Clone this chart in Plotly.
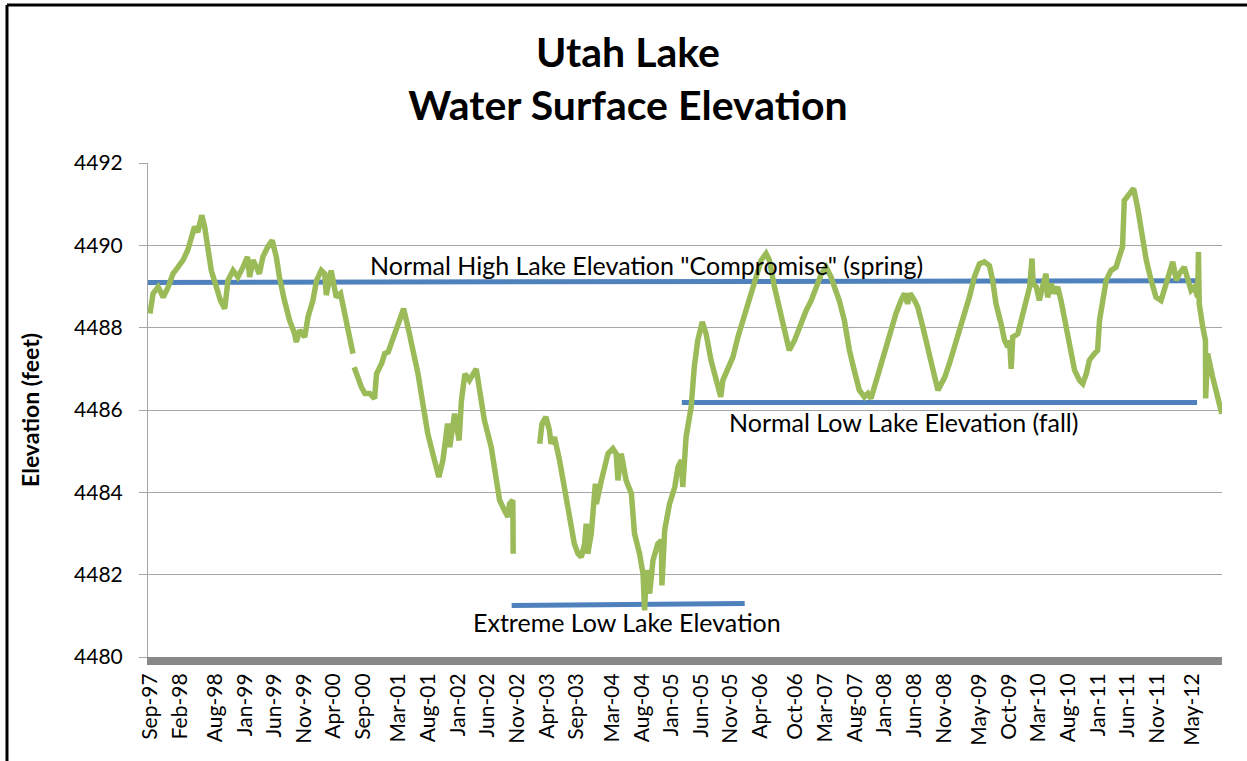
import plotly.graph_objects as go

# Utah Lake water surface elevation
survey_dates = [
    "1997-09-01", "1997-09-17", "1997-10-13", "1997-11-08", "1997-12-04", "1997-12-28",
    "1998-01-23", "1998-02-18", "1998-03-14", "1998-04-02", "1998-04-18", "1998-05-05",
    "1998-05-25", "1998-06-09", "1998-06-26", "1998-07-13", "1998-08-08", "1998-08-29",
    "1998-09-20", "1998-10-07", "1998-11-02", "1998-11-27", "1998-12-23", "1999-01-15",
    "1999-01-26", "1999-02-13", "1999-03-17", "1999-04-04", "1999-04-29", "1999-05-22",
    "1999-06-12", "1999-06-28", "1999-07-24", "1999-08-19", "1999-09-14", "1999-09-23",
    "1999-10-10", "1999-11-05", "1999-11-22", "1999-12-17", "2000-01-05", "2000-01-29",
    "2000-02-16", "2000-02-24", "2000-03-20", "2000-04-15", "2000-05-07", "2000-05-27",
    "2000-06-18", "2000-07-10", "2000-07-13",
    "2000-07-16", "2000-08-05", "2000-08-22", "2000-09-09", "2000-10-04", "2000-10-29",
    "2000-11-08", "2000-12-04", "2000-12-20", "2001-01-07", "2001-02-02", "2001-02-26",
    "2001-03-15", "2001-03-27", "2001-04-18", "2001-05-13", "2001-06-09", "2001-07-04",
    "2001-07-29", "2001-08-24", "2001-09-24", "2001-10-15", "2001-11-08", "2001-11-19",
    "2001-12-14", "2002-01-06", "2002-01-18", "2002-02-05", "2002-02-28", "2002-04-04",
    "2002-04-21", "2002-05-16", "2002-06-20", "2002-07-15", "2002-08-02", "2002-08-27",
    "2002-09-14", "2002-09-22", "2002-10-09", "2002-10-11", "2002-12-15",
    "2003-02-24", "2003-03-08", "2003-03-28", "2003-04-15", "2003-04-23", "2003-05-11",
    "2003-06-06", "2003-07-01", "2003-07-26", "2003-08-21", "2003-09-09", "2003-09-26",
    "2003-10-13", "2003-10-21", "2003-10-29", "2003-11-16", "2003-12-07", "2003-12-12",
    "2004-01-07", "2004-02-10", "2004-03-06", "2004-03-23", "2004-04-01", "2004-04-18",
    "2004-05-13", "2004-06-09", "2004-06-25", "2004-07-21", "2004-08-08", "2004-08-16",
    "2004-08-25", "2004-09-11", "2004-09-28", "2004-10-23", "2004-11-10", "2004-11-13",
    "2004-11-27", "2004-12-22", "2005-01-18", "2005-02-04", "2005-02-21", "2005-02-28",
    "2005-03-17", "2005-04-12", "2005-04-28", "2005-05-16", "2005-06-08", "2005-06-28",
    "2005-07-23", "2005-08-19", "2005-09-11", "2005-09-22", "2005-10-17", "2005-11-13",
    "2005-12-08", "2006-01-12", "2006-02-15", "2006-03-11", "2006-04-07", "2006-05-02",
    "2006-05-19", "2006-06-14", "2006-07-10", "2006-08-05", "2006-08-29", "2006-09-25",
    "2006-10-20", "2006-11-24", "2006-12-20", "2007-01-15", "2007-02-10", "2007-03-06",
    "2007-04-01", "2007-04-18", "2007-05-13", "2007-06-08", "2007-07-04", "2007-07-29",
    "2007-08-24", "2007-09-19", "2007-10-07", "2007-10-23", "2007-11-19", "2007-12-14",
    "2008-01-10", "2008-02-05", "2008-02-28", "2008-03-25", "2008-04-12", "2008-04-28",
    "2008-05-11", "2008-06-03", "2008-06-19", "2008-07-15", "2008-08-10", "2008-09-06",
    "2008-10-01", "2008-10-18", "2008-11-05", "2008-11-29", "2008-12-25", "2009-01-20",
    "2009-02-15", "2009-03-11", "2009-04-06", "2009-05-02", "2009-05-27", "2009-06-22",
    "2009-07-09", "2009-07-26", "2009-08-21", "2009-09-08", "2009-09-25", "2009-10-04",
    "2009-10-12", "2009-10-20", "2009-11-15", "2009-12-03", "2009-12-28", "2010-01-15",
    "2010-01-27", "2010-02-02", "2010-02-18", "2010-03-06", "2010-03-22", "2010-04-09",
    "2010-04-17", "2010-05-05", "2010-05-21", "2010-06-08", "2010-06-25", "2010-07-12",
    "2010-08-07", "2010-09-03", "2010-09-28", "2010-10-15", "2010-11-02", "2010-11-18",
    "2010-12-14", "2010-12-30", "2011-01-09", "2011-01-25", "2011-02-12", "2011-03-09",
    "2011-04-04", "2011-04-20", "2011-05-07", "2011-05-16", "2011-06-11", "2011-07-03",
    "2011-07-23", "2011-08-18", "2011-09-06", "2011-10-01", "2011-10-26", "2011-11-21",
    "2011-12-08", "2012-01-04", "2012-01-20", "2012-02-07", "2012-02-23", "2012-03-19",
    "2012-04-06", "2012-04-23", "2012-05-10", "2012-05-27", "2012-05-31", "2012-06-04",
    "2012-06-22", "2012-07-06", "2012-07-07", "2012-07-17", "2012-08-12", "2012-09-08",
    "2012-09-28",
]

elevation_ft = [
    4488.34, 4488.83, 4488.99, 4488.74, 4488.99, 4489.31,
    4489.47, 4489.64, 4489.88, 4490.20, 4490.45, 4490.32,
    4490.73, 4490.45, 4489.96, 4489.39, 4488.99, 4488.66,
    4488.46, 4489.15, 4489.39, 4489.23, 4489.47, 4489.72,
    4489.23, 4489.64, 4489.31, 4489.72, 4489.96, 4490.12,
    4489.72, 4489.23, 4488.66, 4488.18, 4487.85, 4487.65,
    4487.94, 4487.77, 4488.26, 4488.66, 4489.15, 4489.39,
    4489.31, 4488.79, 4489.39, 4488.74, 4488.83, 4488.34,
    4487.85, 4487.37, None,
    4487.04, 4486.72, 4486.56, 4486.40, 4486.40, 4486.28,
    4486.88, 4487.13, 4487.37, 4487.41, 4487.77, 4488.10,
    4488.34, 4488.46, 4488.02, 4487.53, 4486.88, 4486.15,
    4485.43, 4484.94, 4484.37, 4484.78, 4485.67, 4485.10,
    4485.91, 4485.26, 4486.23, 4486.88, 4486.72, 4487.00,
    4486.56, 4485.75, 4485.10, 4484.37, 4483.81, 4483.56,
    4483.40, 4483.72, 4483.81, 4482.51, None,
    4485.18, 4485.67, 4485.83, 4485.51, 4485.18, 4485.34,
    4484.78, 4484.13, 4483.48, 4482.75, 4482.51, 4482.43,
    4482.75, 4483.24, 4482.51, 4483.00, 4484.21, 4483.72,
    4484.29, 4484.94, 4485.06, 4484.94, 4484.29, 4484.94,
    4484.29, 4483.97, 4483.00, 4482.51, 4482.02, 4481.13,
    4482.11, 4481.54, 4482.35, 4482.75, 4482.83, 4481.74,
    4483.08, 4483.72, 4484.13, 4484.62, 4484.78, 4484.13,
    4485.34, 4486.07, 4487.04, 4487.69, 4488.14, 4487.85,
    4487.21, 4486.72, 4486.32, 4486.72, 4487.04, 4487.29,
    4487.77, 4488.34, 4488.83, 4489.31, 4489.64, 4489.80,
    4489.64, 4488.99, 4488.42, 4487.85, 4487.45, 4487.69,
    4488.02, 4488.42, 4488.66, 4488.99, 4489.31, 4489.47,
    4489.23, 4488.99, 4488.66, 4488.18, 4487.45, 4486.96,
    4486.48, 4486.32, 4486.40, 4486.28, 4486.72, 4487.04,
    4487.53, 4487.94, 4488.34, 4488.66, 4488.83, 4488.58,
    4488.83, 4488.66, 4488.50, 4488.02, 4487.45, 4486.96,
    4486.48, 4486.64, 4486.80, 4487.13, 4487.53, 4488.02,
    4488.34, 4488.74, 4489.23, 4489.55, 4489.60, 4489.51,
    4489.15, 4488.58, 4488.10, 4487.69, 4487.53, 4487.69,
    4487.00, 4487.77, 4487.85, 4488.18, 4488.66, 4488.99,
    4489.68, 4489.07, 4488.99, 4488.66, 4488.99, 4489.31,
    4488.74, 4489.07, 4488.83, 4488.99, 4488.66, 4488.26,
    4487.69, 4486.96, 4486.72, 4486.64, 4486.88, 4487.21,
    4487.37, 4487.45, 4488.18, 4488.66, 4489.15, 4489.39,
    4489.47, 4489.72, 4489.96, 4491.09, 4491.26, 4491.38,
    4490.93, 4490.12, 4489.64, 4489.15, 4488.74, 4488.66,
    4488.91, 4489.39, 4489.60, 4489.15, 4489.31, 4489.47,
    4489.15, 4488.91, 4488.99, 4488.74, 4489.84, 4488.58,
    4488.02, 4487.69, 4486.28, 4487.37, 4486.80, 4486.23,
    4485.91,
]

# reference levels drawn as straight blue lines
high_dates = ["1997-08-22", "2012-05-24"]
high_levels = [4489.10, 4489.14]
low_dates = ["2005-02-23", "2012-05-24"]
low_levels = [4486.18, 4486.18]
extreme_dates = ["2002-10-03", "2006-01-12"]
extreme_levels = [4481.25, 4481.30]

tick_dates = [
    "1997-09-01", "1998-02-01", "1998-08-01", "1999-01-01", "1999-06-01", "1999-11-01",
    "2000-04-01", "2000-09-01", "2001-03-01", "2001-08-01", "2002-01-01", "2002-06-01",
    "2002-11-01", "2003-04-01", "2003-09-01", "2004-03-01", "2004-08-01", "2005-01-01",
    "2005-06-01", "2005-11-01", "2006-04-01", "2006-10-01", "2007-03-01", "2007-08-01",
    "2008-01-01", "2008-06-01", "2008-11-01", "2009-05-01", "2009-10-01", "2010-03-01",
    "2010-08-01", "2011-01-01", "2011-06-01", "2011-11-01", "2012-05-01",
]
tick_labels = [
    "Sep-97", "Feb-98", "Aug-98", "Jan-99", "Jun-99", "Nov-99",
    "Apr-00", "Sep-00", "Mar-01", "Aug-01", "Jan-02", "Jun-02",
    "Nov-02", "Apr-03", "Sep-03", "Mar-04", "Aug-04", "Jan-05",
    "Jun-05", "Nov-05", "Apr-06", "Oct-06", "Mar-07", "Aug-07",
    "Jan-08", "Jun-08", "Nov-08", "May-09", "Oct-09", "Mar-10",
    "Aug-10", "Jan-11", "Jun-11", "Nov-11", "May-12",
]

FONT = "Lato"
GREEN = "#9bbb59"
BLUE = "#4f81bd"
GRID = "#a6a6a6"

W, H = 1247, 761

fig = go.Figure()

for xs, ys in [(high_dates, high_levels), (low_dates, low_levels), (extreme_dates, extreme_levels)]:
    fig.add_trace(go.Scatter(
        x=xs, y=ys, mode="lines",
        line=dict(color=BLUE, width=5),
        showlegend=False, hoverinfo="skip",
    ))

fig.add_trace(go.Scatter(
    x=survey_dates, y=elevation_ft, mode="lines",
    line=dict(color=GREEN, width=5.5),
    connectgaps=False, showlegend=False,
    name="Elevation",
))

annotations = [
    ("2004-08-26", 4489.52, 'Normal High Lake Elevation "Compromise" (spring)'),
    ("2008-04-07", 4485.71, "Normal Low Lake Elevation (fall)"),
    ("2004-05-15", 4480.85, "Extreme Low Lake Elevation"),
]
for ax, ay, txt in annotations:
    fig.add_annotation(x=ax, y=ay, text=txt, showarrow=False,
                       font=dict(family=FONT, size=25, color="black"))

# frame lines at the top and left edge of the chart
frame = dict(color="black", width=3)
fig.add_shape(type="line", xref="paper", yref="paper",
              x0=-0.1313, x1=-0.1313, y0=-0.25, y1=1.3198, line=frame)
fig.add_shape(type="line", xref="paper", yref="paper",
              x0=-0.1313, x1=1.05, y0=1.3198, y1=1.3198, line=frame)

fig.update_layout(
    width=W, height=H,
    margin=dict(l=148, r=25, t=163, b=104),
    paper_bgcolor="white", plot_bgcolor="white",
    title=dict(
        text="<b>Utah Lake<br>Water Surface Elevation</b>",
        font=dict(family=FONT, size=41, color="black"),
        x=628 / W, xanchor="center", xref="container",
        y=1 - 66.5 / H, yanchor="middle", yref="container",
    ),
    xaxis=dict(
        type="date",
        range=["1997-08-22", "2012-09-29"],
        tickmode="array", tickvals=tick_dates, ticktext=tick_labels,
        tickangle=-90, ticks="",
        tickfont=dict(family=FONT, size=21, color="black"),
        showgrid=False, zeroline=False,
        showline=True, linecolor="#888888", linewidth=8,
    ),
    yaxis=dict(
        range=[4480, 4492], tick0=4480, dtick=2,
        showgrid=True, gridcolor=GRID, gridwidth=1, zeroline=False,
        showline=True, linecolor=GRID, linewidth=1,
        ticks="outside", ticklen=8, tickcolor=GRID,
        ticklabelstandoff=12,
        tickfont=dict(family=FONT, size=21, color="black"),
        title=dict(text="<b>Elevation (feet)</b>", standoff=28,
                   font=dict(family=FONT, size=23, color="black")),
    ),
    hovermode="closest",
)

# drop the browser's default 8px body margin so the figure fills the window
fig.write_html(
    "out.html",
    config={"displayModeBar": False},
    post_script="document.body.style.margin = '0px';",
)
